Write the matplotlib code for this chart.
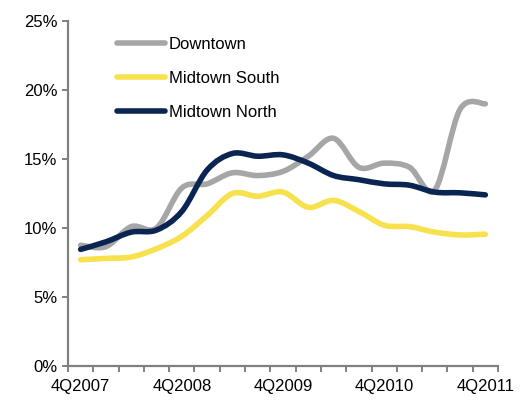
import matplotlib
matplotlib.use("Agg")
import matplotlib.pyplot as plt
from matplotlib.path import Path
from matplotlib.patches import PathPatch
from matplotlib.lines import Line2D

# quarterly vacancy rates (%)
quarters = ["4Q2007", "1Q2008", "2Q2008", "3Q2008", "4Q2008", "1Q2009", "2Q2009", "3Q2009",
            "4Q2009", "1Q2010", "2Q2010", "3Q2010", "4Q2010", "1Q2011", "2Q2011", "3Q2011", "4Q2011"]
downtown = [8.75, 8.65, 10.1, 10.0, 12.9, 13.2, 14.0, 13.8, 14.1, 15.2, 16.5, 14.4, 14.7, 14.4, 12.75, 18.6, 19.0]
midtown_south = [7.7, 7.8, 7.9, 8.5, 9.4, 10.9, 12.5, 12.3, 12.6, 11.5, 12.0, 11.2, 10.2, 10.1, 9.7, 9.5, 9.55]
midtown_north = [8.45, 9.0, 9.7, 9.85, 11.2, 14.2, 15.4, 15.2, 15.3, 14.7, 13.8, 13.5, 13.2, 13.1, 12.6, 12.55, 12.4]

series = [("Downtown", downtown, "#a6a6a6"),
          ("Midtown South", midtown_south, "#f7e14c"),
          ("Midtown North", midtown_north, "#0b2552")]

plt.rcParams['font.family'] = ['Liberation Sans', 'DejaVu Sans']


def smooth_path(xs, ys):
    # excel-like smoothed line: catmull-rom turned into cubic bezier segments
    pts = list(zip(xs, ys))
    n = len(pts)
    verts = [pts[0]]
    codes = [Path.MOVETO]
    for i in range(n - 1):
        p0 = pts[i - 1] if i > 0 else pts[i]
        p1 = pts[i]
        p2 = pts[i + 1]
        p3 = pts[i + 2] if i + 2 < n else pts[i + 1]
        c1 = (p1[0] + (p2[0] - p0[0]) / 6, p1[1] + (p2[1] - p0[1]) / 6)
        c2 = (p2[0] - (p3[0] - p1[0]) / 6, p2[1] - (p3[1] - p1[1]) / 6)
        verts += [c1, c2, p2]
        codes += [Path.CURVE4] * 3
    return Path(verts, codes)


fig = plt.figure(figsize=(5.24, 4.01), dpi=100)
ax = fig.add_axes([68 / 524, 35 / 401, 430 / 524, 345 / 401])

x = list(range(len(quarters)))
handles = []
for name, vals, col in series:
    patch = PathPatch(smooth_path(x, vals), facecolor="none", edgecolor=col,
                      linewidth=4.0, capstyle="round", joinstyle="round")
    ax.add_patch(patch)
    handles.append(Line2D([], [], color=col, linewidth=4.0, solid_capstyle="round", label=name))

ax.set_xlim(-0.5, len(quarters) - 0.5)
ax.set_ylim(0, 25)

ax.set_yticks([0, 5, 10, 15, 20, 25])
ax.set_yticklabels([f"{v}%" for v in [0, 5, 10, 15, 20, 25]])
ax.set_xticks(x[::4])
ax.set_xticklabels(quarters[::4])
ax.set_xticks([i - 0.5 for i in range(len(quarters) + 1)], minor=True)

for s in ["top", "right"]:
    ax.spines[s].set_visible(False)
for s in ["left", "bottom"]:
    ax.spines[s].set_color("#808080")
    ax.spines[s].set_linewidth(1.6)

ax.tick_params(axis="y", length=4.5, width=1.4, color="#808080", labelsize=12, pad=3)
ax.tick_params(axis="x", which="major", length=0, labelsize=12, pad=9)
ax.tick_params(axis="x", which="minor", length=4.5, width=1.4, color="#808080")

ax.legend(handles=handles, loc="upper left", bbox_to_anchor=(0.114, 0.953),
          frameon=False, fontsize=12, handlelength=2.9, handletextpad=0.2,
          labelspacing=1.12, borderaxespad=0, borderpad=0)

fig.savefig("out.png", dpi=100)
